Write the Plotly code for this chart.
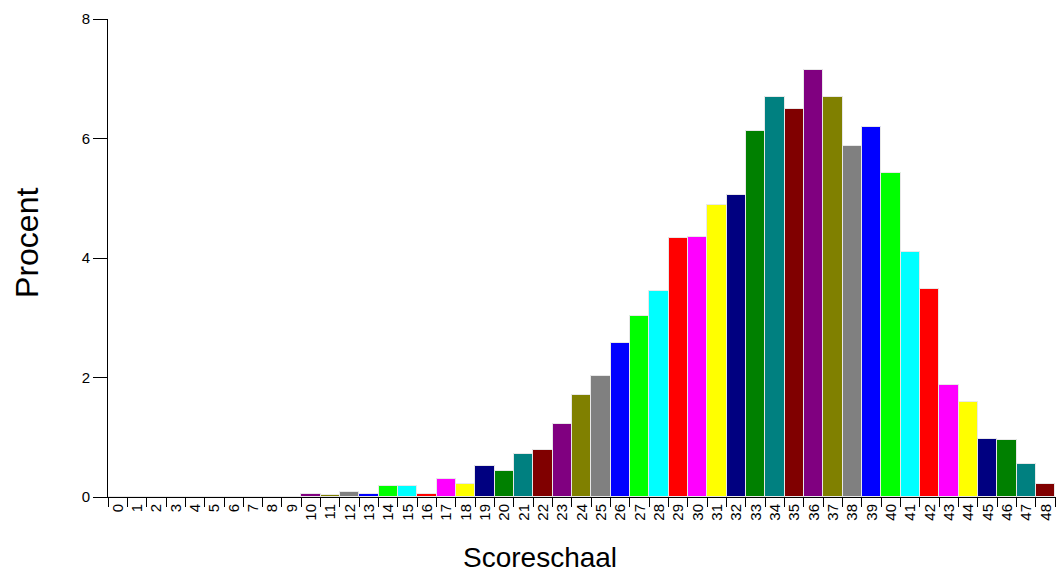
import plotly.graph_objects as go

categories = [str(i) for i in range(0, 49)]
values = [0, 0, 0, 0, 0, 0, 0, 0, 0, 0,
          0.05, 0.04, 0.08, 0.05, 0.18, 0.18, 0.05, 0.30, 0.22, 0.52,
          0.44, 0.72, 0.79, 1.23, 1.71, 2.03, 2.58, 3.03, 3.45, 4.33,
          4.35, 4.89, 5.05, 6.13, 6.69, 6.49, 7.15, 6.69, 5.88, 6.19,
          5.42, 4.10, 3.48, 1.87, 1.59, 0.97, 0.95, 0.55, 0.22]
palette = ["#000080", "#008000", "#008080", "#800000", "#800080", "#808000",
           "#808080", "#0000FF", "#00FF00", "#00FFFF", "#FF0000", "#FF00FF", "#FFFF00"]
y_ticks = [0, 2, 4, 6, 8]

colors = [palette[(int(c) - 6) % 13] for c in categories]

fig = go.Figure(go.Bar(
    x=categories, y=values,
    marker=dict(color=colors, line=dict(color="#e8e8e8", width=1)),
))

# the page body has an 8px margin, so the figure is shrunk by 8px and offset
fig.update_layout(
    width=1056, height=561,
    margin=dict(l=100, r=0, t=11, b=72, autoexpand=False),
    plot_bgcolor="white", paper_bgcolor="white",
    bargap=0, showlegend=False,
    font=dict(family="Liberation Sans, Arial, sans-serif", color="black"),
    annotations=[
        dict(text="Scoreschaal", xref="paper", yref="paper", x=0.452, y=-0.089,
             xanchor="center", yanchor="top", showarrow=False,
             font=dict(size=28, color="black")),
        dict(text="Procent", xref="paper", yref="paper", x=-0.085, y=0.531,
             xanchor="center", yanchor="middle", showarrow=False, textangle=-90,
             font=dict(size=32, color="black")),
    ],
)
fig.update_xaxes(
    type="category", range=[-0.5, 48.95], automargin=False,
    showline=True, linecolor="black", linewidth=1,
    ticks="outside", tickson="boundaries", ticklen=9, tickcolor="black",
    tickangle=-90, tickfont=dict(size=15), showgrid=False, zeroline=False,
)
fig.update_yaxes(
    range=[0, 8], tickvals=y_ticks, automargin=False,
    showline=True, linecolor="black", linewidth=1,
    ticks="outside", ticklen=14, tickcolor="black",
    tickfont=dict(size=15), showgrid=False, zeroline=False,
)

fig.write_html("out.html")
